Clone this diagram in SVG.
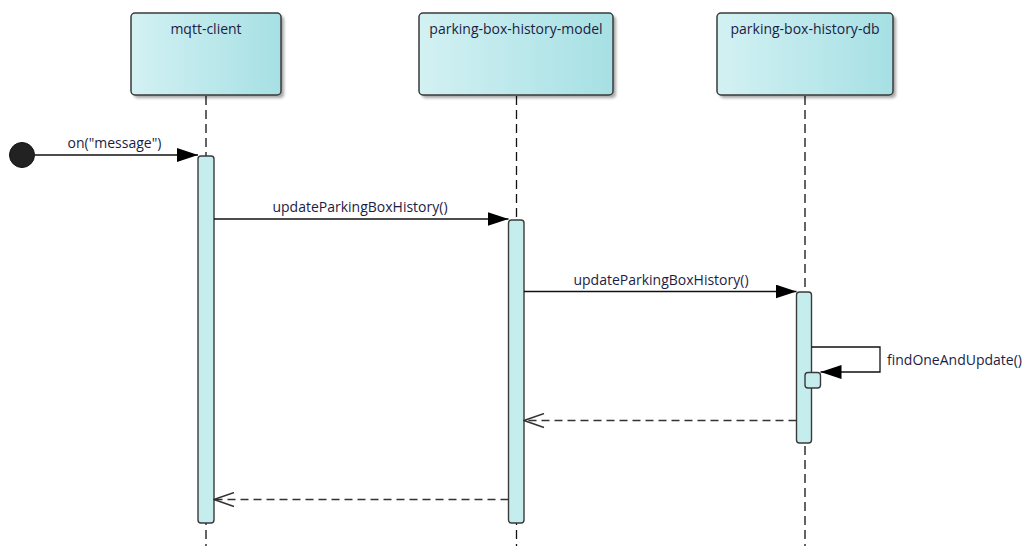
<svg xmlns="http://www.w3.org/2000/svg" width="1026" height="546" viewBox="0 0 1026 546">
<defs>
<linearGradient id="boxGrad" x1="0" y1="0" x2="1" y2="0">
<stop offset="0" stop-color="#d3f1f3"/>
<stop offset="1" stop-color="#a6e0e4"/>
</linearGradient>
<filter id="shadow" x="-10%" y="-10%" width="130%" height="130%">
<feGaussianBlur stdDeviation="1.5"/>
</filter>
<marker id="filled" markerWidth="22" markerHeight="14" refX="21" refY="7" orient="auto" markerUnits="userSpaceOnUse">
<path d="M0,0 L21,7 L0,14 Z" fill="#000"/>
</marker>
<marker id="open" markerWidth="22" markerHeight="16" refX="21" refY="8" orient="auto" markerUnits="userSpaceOnUse">
<path d="M1,1 L21,8 L1,15" fill="none" stroke="#333" stroke-width="1.4"/>
</marker>
</defs>
<style>
.box{fill:url(#boxGrad);stroke:#3a3a3a;stroke-width:1.5}
.shadow{fill:#000;opacity:0.35}
.title{font-family:"Open Sans","DejaVu Sans",sans-serif;font-size:14px;fill:#1c1c44;text-anchor:middle}
.lbl{font-family:"Open Sans","DejaVu Sans",sans-serif;font-size:14px;fill:#1c1c44}
.life{stroke:#111;stroke-width:1.3;stroke-dasharray:9 5;fill:none}
.bar{fill:#c6eded;stroke:#3a3a3a;stroke-width:1.4}
.msg{stroke:#111;stroke-width:1.3;fill:none}
.ret{stroke:#333;stroke-width:1.3;stroke-dasharray:8 5;fill:none}
</style>
<rect width="1026" height="546" fill="#fff"/>
<g id="lifelines">
<line class="life" x1="206" y1="96" x2="206" y2="546"/>
<line class="life" x1="516.5" y1="96" x2="516.5" y2="546"/>
<line class="life" x1="805" y1="96" x2="805" y2="546"/>
</g>
<g id="mqtt-client">
<rect class="shadow" x="134" y="16" width="150" height="82" rx="4" filter="url(#shadow)"/>
<rect class="box" x="131" y="13" width="150" height="82" rx="4"/>
<text class="title" x="206" y="34">mqtt-client</text>
</g>
<g id="parking-box-history-model">
<rect class="shadow" x="422" y="16" width="194" height="82" rx="4" filter="url(#shadow)"/>
<rect class="box" x="419" y="13" width="194" height="82" rx="4"/>
<text class="title" x="516" y="34">parking-box-history-model</text>
</g>
<g id="parking-box-history-db">
<rect class="shadow" x="720" y="16" width="176" height="82" rx="4" filter="url(#shadow)"/>
<rect class="box" x="717" y="13" width="176" height="82" rx="4"/>
<text class="title" x="805" y="34">parking-box-history-db</text>
</g>
<g id="activations">
<rect class="bar" x="198" y="156" width="16" height="367" rx="3"/>
<rect class="bar" x="508.5" y="220" width="15.5" height="303" rx="3"/>
<rect class="bar" x="796.5" y="292" width="15" height="151" rx="3"/>
<rect class="bar" x="805" y="372.5" width="15.5" height="15.5" rx="3"/>
</g>
<g id="initial">
<circle cx="22" cy="155" r="12.5" fill="#222" stroke="#111" stroke-width="1"/>
</g>
<g id="connectors">
<line class="msg" x1="35" y1="155" x2="198" y2="155" marker-end="url(#filled)"/>
<text class="lbl" x="114.5" y="148" text-anchor="middle">on("message")</text>
<line class="msg" x1="214" y1="219" x2="508.5" y2="219" marker-end="url(#filled)"/>
<text class="lbl" x="360" y="212" text-anchor="middle">updateParkingBoxHistory()</text>
<line class="msg" x1="524" y1="291.5" x2="796.5" y2="291.5" marker-end="url(#filled)"/>
<text class="lbl" x="661" y="285" text-anchor="middle">updateParkingBoxHistory()</text>
<path class="msg" d="M811.5,347 H880 V372 H820.5" marker-end="url(#filled)"/>
<text class="lbl" x="887" y="365">findOneAndUpdate()</text>
<line class="ret" x1="796.5" y1="420.5" x2="524" y2="420.5" marker-end="url(#open)"/>
<line class="ret" x1="508.5" y1="499.5" x2="214" y2="499.5" marker-end="url(#open)"/>
</g>
</svg>
